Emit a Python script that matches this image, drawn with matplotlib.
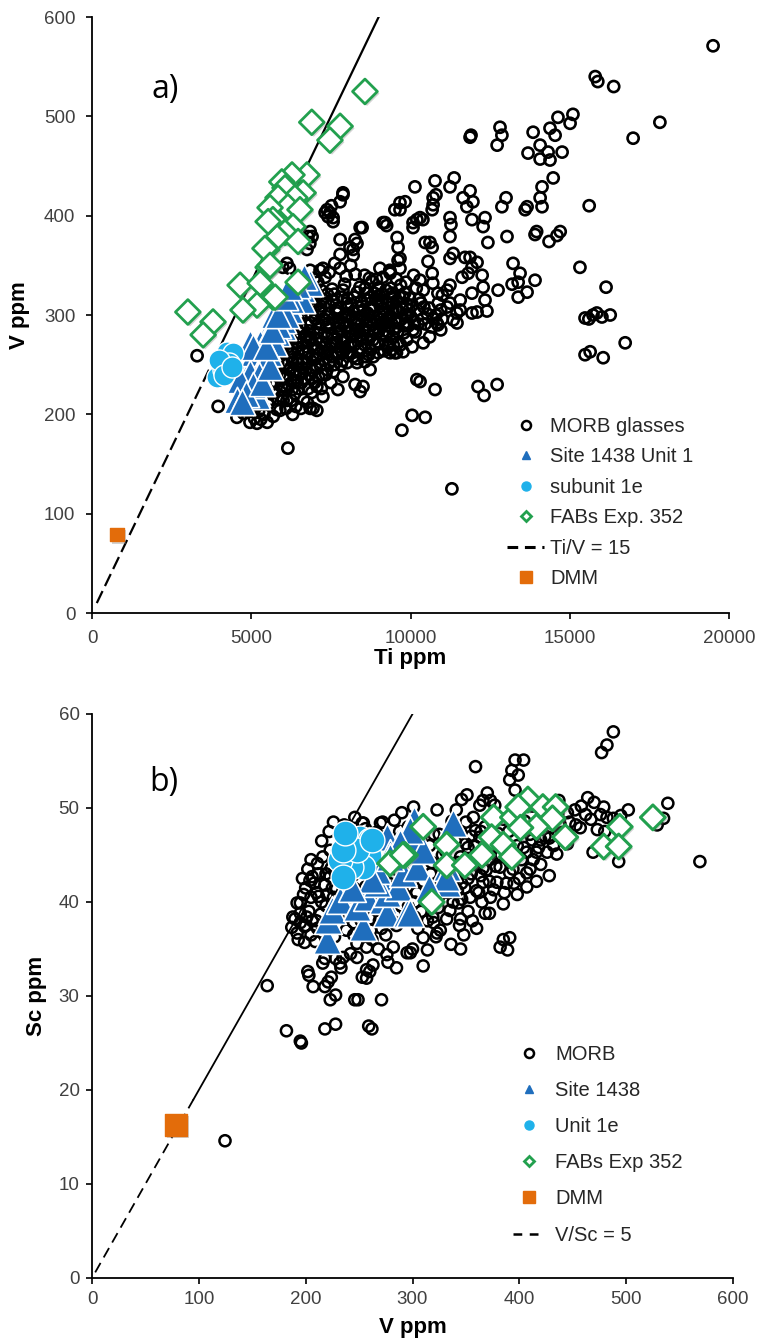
import matplotlib
matplotlib.use("Agg")
import matplotlib.pyplot as plt
import matplotlib.patheffects as pe
from matplotlib.lines import Line2D

plt.rcParams["font.family"] = ["Liberation Sans", "DejaVu Sans"]

# ---------------- panel a): Ti vs V ----------------
morb_a = [
    # dense core
    (6850,345),(7320,338),(7790,347),(8260,341),(8930,336),(9350,344),
    (6680,329),(7090,333),(7540,326),(7930,331),(8410,328),(8790,334),(9230,325),(9690,330),(10180,327),
    (6470,318),(6830,322),(7240,316),(7610,321),(8020,317),(8330,323),(8640,315),(9020,320),(9410,318),(9820,322),(10270,316),
    (6390,309),(6940,306),(7330,312),(7720,307),(8130,311),(8520,305),(8810,309),(9120,313),(9540,306),(9880,311),(10420,308),(10870,312),
    (6280,298),(6710,302),(7020,296),(7430,301),(7840,297),(8210,303),(8490,299),(8730,295),(9030,301),(9320,297),(9630,303),(10020,298),(10530,301),
    (6190,289),(6620,286),(7120,291),(7480,287),(7910,292),(8290,285),(8620,290),(8940,287),(9210,292),(9520,286),(9930,289),(10240,291),
    (6120,279),(6510,282),(6870,277),(7290,281),(7680,276),(8090,283),(8430,279),(8820,275),(9130,281),(9440,278),(9790,282),
    (6030,271),(6420,268),(6790,273),(7230,267),(7620,272),(8040,269),(8470,266),(8880,271),(9280,268),
    (5920,259),(6310,262),(6740,257),(7140,261),(7530,258),(7870,263),(8320,256),(8690,260),
    (5830,251),(6240,247),(6590,252),(7010,249),(7380,245),(7820,250),
    (5740,241),(6130,238),(6520,242),(6910,236),(7340,240),
    (5610,231),(6040,228),(6440,233),(6790,226),
    (7650,305),(7950,288),(8150,296),(8350,308),(8550,284),(8750,318),(8950,293),(9150,302),(9350,289),(9550,314),
    (7850,318),(8050,308),(8250,293),(8450,314),(8650,302),(8850,283),(9050,309),(9250,296),(9450,305),(7750,292),
    (8180,279),(8580,327),(8980,327),(9380,327),(7560,296),(7360,288),(7160,303),(6960,314),(6760,290),(6560,296),
    (9720,296),(9960,305),(10150,283),(10380,296),(10650,288),(10800,300),(11000,296),
    (7050,322),(7180,309),(7270,296),(7390,321),(7460,309),(7580,314),(7690,302),(7760,289),(7880,325),(7990,312),
    (8070,299),(8160,286),(8230,318),(8310,296),(8390,283),(8480,309),(8560,296),(8610,322),(8690,284),(8770,306),
    (8840,298),(8910,315),(8990,283),(9070,296),(9110,321),(9190,284),(9290,311),(9370,299),(9430,322),(9500,294),
    (9590,283),(9660,318),(9740,306),(9810,289),(9900,299),(9970,317),(10060,310),(10110,293),(10210,305),(10330,312),
    (10460,291),(10590,307),(10720,296),(10950,305),
    (6070,296),(6150,268),(6230,283),(6290,255),(6360,291),(6410,276),(6480,251),(6550,287),(6610,264),(6690,279),
    (6720,246),(6800,262),(6880,292),(6950,270),(7020,256),(7080,282),(7170,249),(7210,273),(7300,262),(7370,278),
    (7440,252),(7510,270),(7580,243),(7640,262),(7710,281),(7790,268),(7860,254),(7930,274),(8010,262),(8120,271),
    (8200,258),(8380,264),(8560,270),(8640,276),(8750,265),(8830,258),(9010,271),(9170,264),(9230,278),(9460,270),
    (9560,262),(9690,270),
    (6650,340),(6980,337),(7450,343),(7620,352),(7980,339),(8120,350),(8560,340),(8710,337),(9130,338),(9560,336),
    (9860,333),(10100,340),(10400,325),(10700,332),(11000,320),(11150,325),(10950,285),(10600,278),(10400,272),
    (10050,268),(9880,275),
    (6600,272),(6700,262),(6820,284),(6920,258),(7040,275),(7130,287),(7260,255),(7330,270),(7420,292),(7540,280),
    (7600,250),(7730,262),(7800,284),(7880,275),(7960,300),(8100,262),(8240,270),(8270,281),(8360,291),(8500,276),
    (8600,258),(8700,300),(8800,290),(8860,322),(9000,314),(9080,290),(9200,305),(9300,283),(9420,312),(9500,320),
    (9620,292),(9760,318),(9840,300),(6350,280),(6460,296),(6580,308),(6690,316),(6760,326),(6900,300),(7050,310),
    (7190,325),(7320,295),(6250,263),(6200,275),(6380,240),(6450,256),(6620,246),(6950,244),(7080,266),(7410,265),
    # upper-left arm
    (7880,421),(7790,414),(7380,406),(7410,399),(7570,394),(8420,388),(8260,376),(8200,366),(7790,361),(7250,347),
    (6910,379),(6840,372),(6750,366),(6120,352),(6200,347),(6780,379),(6850,384),(5990,348),(7470,403),(7570,398),
    (7520,410),(8200,360),(8320,372),(9140,393),(9250,390),(9670,413),(10080,393),(10390,396),(10680,406),(11240,398),
    (9580,378),(9610,368),(9610,355),(9040,347),(9350,345),(9360,342),(10460,373),(10550,354),(10680,342),(10300,335),
    (11240,379),(11340,362),(11710,358),(11930,348),(11620,338),(11240,330),(10860,322),(11150,308),(11560,305),(11930,302),
    (11340,295),(10830,292),(9890,292),(10080,285),(9610,272),(9360,262),(9770,263),(8980,262),(8420,275),(8040,282),
    (7940,267),(8010,252),(8320,252),(8570,253),(8730,245),(7880,238),(8260,230),(8510,228),(8420,223),(7720,225),
    (7500,232),(7060,228),(7220,240),(7250,218),(6750,252),(6530,242),(6310,252),(6470,262),(6850,275),(7380,262),
    (6850,206),(7060,204),(6370,221),(6120,225),(6000,214),(6330,232),
    (7160,345),(7790,376),(8100,368),(8480,388),(7320,403),(7880,423),(9510,406),
    # high-Ti extension
    (11870,479),(11900,481),(12810,489),(12870,481),(12720,471),(13850,484),(14380,488),(14630,499),(15100,502),(15010,493),
    (14540,481),(14070,471),(13690,463),(14320,464),(14760,464),(14070,457),(14380,456),(14480,438),(14130,429),(14070,418),
    (14130,409),(13660,409),(13600,406),(15610,410),(16990,478),(17830,494),
    (10140,429),(10770,435),(11240,429),(11370,438),(11870,425),(11650,418),(11960,414),(11770,409),(10710,418),(10800,421),
    (10710,411),(9830,414),(9670,406),(12870,409),(13000,418),(9200,393),(10200,396),(10080,388),(10300,398),
    (11270,391),(11930,396),(12340,398),(12280,389),(12430,373),(13030,379),(13910,381),(13960,384),(14350,374),(14700,384),
    (14600,380),(9670,357),(9670,347),(10610,373),(10680,368),(11240,357),(11870,358),(12090,353),(11810,342),(12250,340),
    (12280,328),(11930,322),(12340,315),(12090,303),(12400,304),(11560,315),(11460,302),(11240,312),(10860,290),(11460,292),
    (13220,352),(13440,342),(13380,333),(13190,331),(13660,323),(13380,318),(13910,335),(12750,325),
    (15320,348),(16140,328),(15480,297),(15730,300),(16010,298),(16270,300),(15600,296),(15850,302),(16740,272),
    (15480,260),(15640,263),(16050,257),
    (15800,540),(15880,535),(16380,530),(19500,571),
    (10300,233),(10200,235),(10770,225),(12120,228),(12310,219),(12720,230),(10050,199),(10460,197),(9730,184),(11300,125),
    (9510,262),(9400,265),(9300,270),
    # low-V band beside Site 1438
    (3300,259),(3960,208),(4550,197),(4960,192),(5180,191),(5500,192),(6150,166),(5900,204),(6120,214),(6280,225),
    (6560,206),(6940,206),(6000,238),(6530,240),(5180,210),(5400,220),(5650,230),(5800,205),(5600,215),
    (5650,262),(5800,250),(6000,262),(5750,240),(5950,228),(6200,245),(5550,248),(5700,222),(5850,215),(6650,215),
    (6900,222),(6300,200),(5400,200),(5300,195),(5100,196),
    (5460,236),(5530,210),(5620,243),(5690,198),(5770,232),(5820,258),(5890,240),(5960,218),(6050,251),(6090,206),
    (6170,230),(6260,214),(6340,244),(6400,208),(6480,226),(6580,232),(6690,236),(6760,212),(6850,240),(6990,232),
    (7110,238),(7200,226),(5380,228),(5280,214),(5230,203),(5010,205),(4880,204),(4760,201),
]
morb_a_ti = [p[0] for p in morb_a]
morb_a_v = [p[1] for p in morb_a]

site_a_ti = [6530, 6780, 6600, 6310, 6150, 5970, 5900, 6000, 5750, 5590, 5500, 5280, 5120, 4960, 4900,
             4800, 5180, 4650, 5300, 5450, 4960, 5100, 5370, 4960, 4650, 5180, 4550, 6000, 5800, 6220,
             6440, 6600, 5590, 5500, 6840, 5060, 5700, 5850, 6650, 6450, 6250, 6080, 5700, 5550, 5400,
             5250, 5050, 4850, 4700, 5350, 5600, 5450, 5650, 5850, 6050, 6200]
site_a_v = [335, 332, 326, 318, 312, 305, 295, 288, 298, 288, 278, 272, 265, 255, 242,
            228, 221, 218, 235, 262, 272, 262, 252, 242, 235, 218, 214, 295, 282, 305,
            322, 315, 282, 268, 332, 268, 300, 290, 338, 330, 315, 300, 272, 262, 250,
            240, 230, 220, 212, 232, 248, 268, 285, 300, 318, 328]

sub_a_ti = [4240, 4430, 3930, 4110, 4300, 3990, 4150, 4380]
sub_a_v = [263, 262, 238, 245, 252, 255, 240, 248]

fab_a_ti = [8570, 6900, 7790, 7470, 6750, 6280, 5960, 6060, 6630, 6370, 5840, 6150, 5590, 6530, 5680,
            6310, 6060, 5810, 6470, 5490, 5530, 4650, 5280, 6470, 5680, 5180, 4740, 3010, 3800, 3490,
            5750, 5530, 5430, 5590]
fab_a_v = [525, 494, 490, 476, 441, 441, 434, 428, 423, 418, 418, 409, 408, 406, 396,
           389, 383, 378, 374, 366, 348, 330, 332, 333, 318, 310, 305, 303, 293, 280,
           318, 394, 367, 350]

dmm_a = (790, 79)
tiv_ratio = 15

# ---------------- panel b): V vs Sc ----------------
morb_b = [
    (164,31.1),(182,26.3),(196,25.0),(195,25.2),(218,26.5),(228,27.0),(246,29.6),(249,29.6),(271,29.6),(259,26.8),
    (262,26.5),(124.5,14.6),(202,32.6),(203,32.2),(207,31.0),(218,31.0),(221,31.5),(224,32.0),(223,29.6),(228,30.1),
    (218,34.0),(228,34.0),(232,33.5),(233,33.0),(248,34.1),(248,35.6),(257,31.9),(260,32.6),(263,33.3),(277,33.6),
    (276,34.4),(187,37.3),(192,36.7),(199,35.7),(195,38.8),(192,39.9),(200,37.5),(205,36.5),(210,38.0),(215,36.8),
    (205,40.5),(200,41.5),(195,37.8),(190,38.2),
    (195,39.9),(201,38.4),(199,37.4),(206,42.7),(223,42.7),(188,38.4),(193,36.0),(209,35.8),(216,33.5),(235,34.1),
    (242,34.5),(257,35.2),(257,32.8),(253,32.0),(271,37.2),(275,36.5),(282,35.2),(295,34.6),(300,35.0),(314,34.9),
    (323,36.7),(320,37.8),(254,48.4),(272,48.5),(301,50.1),(323,49.8),(290,49.5),(223,45.5),(211,44.1),(204,42.3),
    (210,41.0),(215,40.0),(225,41.5),(230,38.5),(238,37.0),(245,36.5),(252,38.0),(262,36.0),(268,35.0),(285,37.5),
    (292,38.0),(305,37.2),(310,36.2),
    (359,54.4),(346,50.9),(351,51.4),(370,51.6),(373,50.8),(363,50.3),(357,49.0),(350,48.5),(253,48.4),(270,48.4),
    (488,58.1),(482,56.7),(477,55.9),(396,55.1),(404,55.1),(393,54.0),(399,53.5),(391,53.0),(396,51.9),(539,50.5),
    (535,48.9),(529,48.2),(569,44.3),(464,51.1),(479,50.1),(502,49.8),(462,49.3),(467,48.8),(476,49.3),(482,49.0),
    (488,48.9),(457,47.9),(453,48.2),(473,47.7),(480,47.5),(469,45.3),(493,44.3),(495,49.2),
    (341,49.8),(366,50.8),(377,50.3),(359,47.6),(363,46.9),(380,47.3),(388,46.0),(407,45.3),(416,45.3),(426,45.3),
    (413,44.5),(407,43.1),(400,42.5),(391,43.1),(382,43.7),(372,44.5),(366,43.6),(355,44.2),(347,43.6),(352,42.5),
    (366,42.1),(360,41.2),(379,42.1),(388,42.0),(407,41.6),(373,40.5),(365,40.0),(343,39.9),(352,39.0),(335,39.1),
    (345,38.2),(319,38.4),(326,37.0),(322,36.3),(385,36.0),(391,36.2),(382,35.2),(389,34.9),(298,34.6),
    (205,44.5),(212,43.0),(218,41.8),(226,40.5),(232,39.2),(238,41.0),(244,42.8),(250,40.2),(256,41.6),(262,39.8),
    (268,41.2),(274,43.0),(280,40.5),(286,42.0),(292,40.8),(298,42.5),(304,41.0),(310,42.2),(316,40.5),(322,41.8),
    (328,43.5),(334,41.0),(340,42.5),(346,40.3),(214,38.7),(222,37.5),(235,40.0),(248,39.0),(260,38.2),(272,39.0),
    (284,38.6),(296,39.5),(308,39.0),(320,39.8),(332,38.2),(344,37.5),(356,38.0),(368,38.8),(280,44.5),(292,45.5),
    (304,44.8),(316,46.0),(328,45.0),(340,46.5),(352,45.8),(364,47.5),(262,46.0),(270,45.0),(250,44.0),(230,45.5),
    (240,43.5),(276,47.0),(288,47.5),(312,48.0),(325,47.2),(337,48.6),(215,46.5),(222,47.5),(236,48.2),(246,49.0),
    (300,46.7),(330,44.0),(335,46.0),(345,44.8),(358,46.0),(370,46.8),(375,48.5),(385,48.8),(395,49.6),(400,47.8),
    (410,47.2),(420,46.6),(412,50.2),(425,49.6),(430,48.0),(440,47.4),(445,46.2),(435,45.1),(420,44.0),(428,42.8),
    (416,42.2),(398,40.8),(385,39.8),(372,38.8),(360,37.2),(348,36.5),(336,35.5),(345,35.0),(285,33.0),(310,33.2),
    (203,39.0),(208,42.0),(211,37.2),(216,44.8),(219,39.6),(224,43.6),(227,36.3),(229,41.4),(233,44.2),(236,38.3),
    (239,46.0),(242,40.6),(245,37.8),(247,44.9),(251,42.0),(254,39.2),(258,43.8),(261,37.0),(264,41.0),(266,44.2),
    (269,38.0),(273,42.5),(277,40.1),(279,45.8),(282,37.9),(286,43.4),(289,39.6),(291,47.1),(295,41.6),(299,44.0),
    (302,38.4),(306,43.1),(309,45.6),(313,40.2),(317,43.0),(320,47.2),(324,39.4),(327,42.0),(331,45.4),(335,43.0),
    (338,40.0),(342,44.2),(349,41.5),(355,43.0),(362,41.0),(369,43.4),(376,41.3),(383,45.0),(390,44.5),(395,42.0),
    (402,44.5),(410,43.5),(418,45.8),(424,47.0),(432,46.0),(438,48.3),(447,48.5),(452,49.8),(458,50.2),(470,50.6),
    (445,49.5),(437,50.8),(405,48.6),(390,47.5),(378,46.0),(368,48.0),(355,47.0),(345,47.5),(332,46.8),(318,44.2),
    (308,47.0),(296,48.0),(283,48.7),(266,47.4),(256,47.8),(244,46.5),(232,47.2),(226,48.5),(219,43.0),(212,40.6),
    (206,38.0),(198,40.8),(202,43.5),(197,42.5),
    (330,41.5),(338,43.8),(346,42.0),(354,40.5),(358,44.0),(364,42.8),(372,42.2),(378,43.8),(386,41.0),(394,43.5),
    (398,46.0),(404,45.8),(412,46.6),(418,48.4),(428,46.8),(436,49.4),(392,45.0),(380,44.8),(370,45.6),(362,45.0),
    (350,46.2),(342,41.2),(326,40.8),(314,38.0),(302,40.0),(290,41.5),(278,42.0),(266,40.2),(255,40.8),(245,41.5),
    (236,42.5),(228,43.0),(220,40.8),
]
morb_b_v = [p[0] for p in morb_b]
morb_b_sc = [p[1] for p in morb_b]

site_b_v = [220, 221, 225, 232, 254, 248, 257, 272, 276, 295, 276, 286, 267, 291, 304,
            288, 298, 304, 310, 276, 279, 267, 301, 332, 338, 332, 298, 288, 279, 331,
            298, 262, 315, 243]
site_b_sc = [36.0, 38.1, 39.1, 40.2, 37.3, 39.5, 40.5, 40.2, 38.8, 38.8, 41.0, 41.6, 42.0, 43.1, 43.7,
             46.6, 48.0, 46.6, 45.5, 46.9, 45.2, 43.4, 48.7, 42.0, 48.4, 43.7, 47.7, 46.3, 44.8, 42.7,
             38.8, 42.5, 41.5, 41.5]

sub_b_v = [237, 251, 260, 259, 254, 242, 232, 235, 248, 262, 235, 237]
sub_b_sc = [47.1, 46.8, 46.6, 45.0, 43.7, 43.7, 44.5, 42.7, 45.5, 46.6, 45.5, 47.3]

fab_b_v = [310, 293, 332, 332, 349, 365, 318, 376, 394, 408, 399, 422, 434, 431, 416,
           401, 374, 385, 393, 443, 494, 479, 493, 525, 279, 291]
fab_b_sc = [48.0, 45.0, 46.1, 43.9, 43.9, 45.0, 40.0, 49.0, 49.0, 50.9, 50.1, 50.1, 50.1, 48.9, 48.0,
            47.9, 46.9, 46.1, 44.8, 46.9, 48.0, 45.9, 45.9, 49.0, 44.1, 45.0]

dmm_b = (78.6, 16.3)
vsc_ratio = 5

# ---------------- styling ----------------
BLUE = "#1f6ebd"
CYAN = "#1fb1ea"
GREEN = "#22a04e"
ORANGE = "#e36c0a"
TICK_C = "#404040"

shadow = [pe.SimplePatchShadow(offset=(1.5, -1.5), alpha=0.35, shadow_rgbFace="#808080"), pe.Normal()]

W, H = 761, 1343
fig = plt.figure(figsize=(W / 100, H / 100), dpi=100)


def rect(x0, x1, y_top, y_bot):
    return [x0 / W, 1 - y_bot / H, (x1 - x0) / W, (y_bot - y_top) / H]


def style_axes(ax, pad):
    for s in ("top", "right"):
        ax.spines[s].set_visible(False)
    for s in ("left", "bottom"):
        ax.spines[s].set_linewidth(1.3)
    ax.tick_params(direction="out", length=4, width=1.2, labelsize=13.5,
                   labelcolor=TICK_C, pad=pad)


# panel a
ax1 = fig.add_axes(rect(92, 729, 17, 613))
style_axes(ax1, 8)
ax1.set_xlim(0, 20000)
ax1.set_ylim(0, 600)
ax1.set_xticks([0, 5000, 10000, 15000, 20000])
ax1.set_yticks(range(0, 601, 100))

ti_dash = [150, 3750]
ti_solid = [3750, 9000]
ax1.plot(ti_dash, [t / tiv_ratio for t in ti_dash], color="black", lw=1.6,
         dashes=(6, 2.5), zorder=1)
ax1.plot(ti_solid, [t / tiv_ratio for t in ti_solid], color="black", lw=1.6, zorder=1)

ax1.scatter(morb_a_ti, morb_a_v, s=64, facecolors="none", edgecolors="black",
            linewidths=1.9, zorder=2)
ax1.scatter(site_a_ti, site_a_v, marker="^", s=360, color=BLUE, edgecolors="white",
            linewidths=1.2, zorder=3)
ax1.scatter(sub_a_ti, sub_a_v, marker="o", s=230, color=CYAN, edgecolors="white",
            linewidths=1.0, zorder=4)
ax1.scatter(fab_a_ti, fab_a_v, marker="D", s=160, facecolors="white", edgecolors=GREEN,
            linewidths=2.0, zorder=5, path_effects=shadow)
ax1.scatter([dmm_a[0]], [dmm_a[1]], marker="s", s=100, color=ORANGE, zorder=6,
            path_effects=shadow)

ax1.set_xlabel("Ti ppm", fontsize=16, fontweight="bold", labelpad=1)
ax1.set_ylabel("V ppm", fontsize=16, fontweight="bold", labelpad=10)
ax1.text(0.094, 0.879, "a)", transform=ax1.transAxes, fontsize=23,
         family=["Open Sans", "DejaVu Sans"], va="center", ha="left")

handles_a = [
    Line2D([], [], ls="none", marker="o", ms=6.5, mfc="none", mec="black", mew=1.8),
    Line2D([], [], ls="none", marker="^", ms=6, color=BLUE),
    Line2D([], [], ls="none", marker="o", ms=6.5, color=CYAN),
    Line2D([], [], ls="none", marker="D", ms=5.5, mfc="white", mec=GREEN, mew=2),
    Line2D([], [], color="black", lw=2.2, dashes=(3.5, 2.2)),
    Line2D([], [], ls="none", marker="s", ms=8, color=ORANGE),
]
labels_a = ["MORB glasses", "Site 1438 Unit 1", "subunit 1e", "FABs Exp. 352",
            "Ti/V = 15", "DMM"]
leg1 = ax1.legend(handles_a, labels_a, loc="upper left",
                  bbox_to_anchor=(507 / W, 1 - 417 / H), bbox_transform=fig.transFigure,
                  frameon=False, fontsize=14.5, handlelength=1.85, handletextpad=0.3,
                  labelspacing=0.57, borderpad=0, borderaxespad=0)
for t in leg1.get_texts():
    t.set_color("#262626")

# panel b
ax2 = fig.add_axes(rect(92, 733, 714, 1278))
style_axes(ax2, 5)
ax2.set_xlim(0, 600)
ax2.set_ylim(0, 60)
ax2.set_xticks(range(0, 601, 100))
ax2.set_yticks(range(0, 61, 10))

v_dash = [3, 95]
v_solid = [95, 300]
ax2.plot(v_dash, [v / vsc_ratio for v in v_dash], color="black", lw=1.3,
         dashes=(6, 3.5), zorder=1)
ax2.plot(v_solid, [v / vsc_ratio for v in v_solid], color="black", lw=1.3, zorder=1)

ax2.scatter(morb_b_v, morb_b_sc, s=64, facecolors="none", edgecolors="black",
            linewidths=1.8, zorder=2)
ax2.scatter(site_b_v, site_b_sc, marker="^", s=400, color=BLUE, edgecolors="white",
            linewidths=1.2, zorder=3)
ax2.scatter(sub_b_v, sub_b_sc, marker="o", s=320, color=CYAN, edgecolors="white",
            linewidths=1.0, zorder=4)
ax2.scatter(fab_b_v, fab_b_sc, marker="D", s=160, facecolors="white", edgecolors=GREEN,
            linewidths=2.2, zorder=5, path_effects=shadow)
ax2.scatter([dmm_b[0]], [dmm_b[1]], marker="s", s=250, color=ORANGE, zorder=6,
            path_effects=shadow)

ax2.set_xlabel("V ppm", fontsize=16, fontweight="bold", labelpad=7)
ax2.set_ylabel("Sc ppm", fontsize=16, fontweight="bold", labelpad=8)
ax2.text(0.09, 0.878, "b)", transform=ax2.transAxes, fontsize=23,
         family=["Open Sans", "DejaVu Sans"], va="center", ha="left")

handles_b = [
    Line2D([], [], ls="none", marker="o", ms=6.5, mfc="none", mec="black", mew=1.8),
    Line2D([], [], ls="none", marker="^", ms=5.5, color=BLUE),
    Line2D([], [], ls="none", marker="o", ms=6.5, color=CYAN),
    Line2D([], [], ls="none", marker="D", ms=5.5, mfc="white", mec=GREEN, mew=2),
    Line2D([], [], ls="none", marker="s", ms=8, color=ORANGE),
    Line2D([], [], color="black", lw=1.8, dashes=(3.5, 3)),
]
labels_b = ["MORB", "Site 1438", "Unit 1e", "FABs Exp 352", "DMM", "V/Sc = 5"]
leg2 = ax2.legend(handles_b, labels_b, loc="upper left",
                  bbox_to_anchor=(513 / W, 1 - 1045 / H), bbox_transform=fig.transFigure,
                  frameon=False, fontsize=14.5, handlelength=1.55, handletextpad=0.55,
                  labelspacing=0.85, borderpad=0, borderaxespad=0)
for t in leg2.get_texts():
    t.set_color("#262626")

fig.savefig("out.png", dpi=100)
